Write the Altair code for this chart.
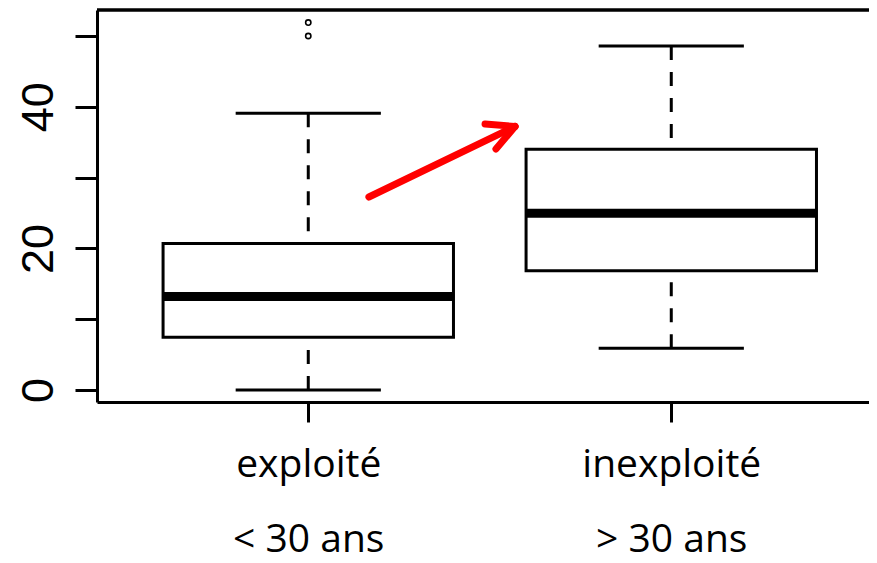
import json
import altair as alt
import pandas as pd

# ---- data ----
positions = [1, 2]
categories = ["exploité", "inexploité"]
age_labels = ["< 30 ans", "> 30 ans"]
whisker_low = [0.0, 5.9]
q1 = [7.45, 16.85]
median = [13.2, 24.95]
q3 = [20.7, 34.0]
whisker_high = [39.1, 48.6]
outlier_pos = [1, 1]
outlier_val = [50.0, 51.9]

# red annotation arrow (data units): shaft + two barbs, all ending at the tip
arrow_x_start = [1.167, 1.487, 1.517]
arrow_y_start = [27.26, 37.57, 34.04]
arrow_x_end = [1.5695, 1.5695, 1.5695]
arrow_y_end = [37.22, 37.22, 37.22]

y_ticks = [0, 10, 20, 30, 40, 50]

# ---- tables ----
boxes = pd.DataFrame({
    "pos": positions, "lo": whisker_low, "q1": q1, "med": median,
    "q3": q3, "hi": whisker_high,
})
outliers = pd.DataFrame({"pos": outlier_pos, "val": outlier_val})
arrow = pd.DataFrame({"x": arrow_x_start, "y": arrow_y_start,
                      "x2": arrow_x_end, "y2": arrow_y_end})

W, H = 772, 392
x_scale = alt.Scale(domain=[0.418, 2.5447], nice=False, zero=False)
y_scale = alt.Scale(domain=[-1.695, 53.67], nice=False, zero=False)

label_arr = "{" + ",".join(
    f'"{p}": {json.dumps([c, a], ensure_ascii=False)}'
    for p, c, a in zip(positions, categories, age_labels)) + "}"
x_label_expr = f"{label_arr}[datum.value + '']"

x_axis = alt.Axis(values=positions, labelExpr=x_label_expr, title=None,
                  grid=False, labelFont="Open Sans", labelFontSize=39,
                  labelLineHeight=75, labelBaseline="top", labelAlign="center",
                  labelAngle=0, labelPadding=23, labelColor="black",
                  labelFlush=False, labelOverlap=False, labelLimit=0,
                  tickSize=20, tickWidth=3, tickColor="black",
                  domainWidth=3, domainColor="black")
y_axis = alt.Axis(values=y_ticks,
                  labelExpr="datum.value % 20 == 0 ? datum.label : ''",
                  title=None, grid=False, labelFont="Liberation Sans",
                  labelFontSize=45, labelAngle=-90, labelAlign="center",
                  labelBaseline="alphabetic", labelPadding=23,
                  labelColor="black", labelOverlap=False, labelFlush=False,
                  tickSize=22, tickWidth=3, tickColor="black",
                  domainWidth=3, domainColor="black")


def X(field):
    return alt.X(field, type="quantitative", scale=x_scale, axis=x_axis)


def Y(field):
    return alt.Y(field, type="quantitative", scale=y_scale, axis=y_axis)


base = alt.Chart(boxes)

whisk_lo = base.mark_rule(color="black", strokeWidth=3, strokeDash=[14, 12],
                          strokeCap="butt").encode(
    x=X("pos"), y=Y("lo"), y2="q1:Q")
whisk_hi = base.mark_rule(color="black", strokeWidth=3, strokeDash=[14, 12],
                          strokeCap="butt").encode(
    x=X("pos"), y=Y("hi"), y2="q3:Q")

caps = base.transform_fold(["lo", "hi"], as_=["kind", "v"]).transform_calculate(
    xa="datum.pos - 0.2", xb="datum.pos + 0.2"
).mark_rule(color="black", strokeWidth=3).encode(
    x=X("xa"), x2="xb:Q", y=Y("v"))

box_rect = base.transform_calculate(
    xa="datum.pos - 0.4", xb="datum.pos + 0.4"
).mark_rect(fill="white", stroke="black", strokeWidth=3).encode(
    x=X("xa"), x2="xb:Q", y=Y("q1"), y2="q3:Q")

med_line = base.transform_calculate(
    xa="datum.pos - 0.4", xb="datum.pos + 0.4"
).mark_rule(color="black", strokeWidth=9, strokeCap="butt").encode(
    x=X("xa"), x2="xb:Q", y=Y("med"))

out_pts = alt.Chart(outliers).mark_point(
    shape="circle", filled=False, size=28, strokeWidth=1.6, color="black",
    opacity=1).encode(x=X("pos"), y=Y("val"))

arrow_marks = alt.Chart(arrow).mark_rule(
    color="#ff0000", strokeWidth=7, strokeCap="round").encode(
    x=X("x"), y=Y("y"), x2="x2:Q", y2="y2:Q")

top_line = alt.Chart(boxes).mark_rule(color="black", strokeWidth=3).encode(
    x=alt.value(0), x2=alt.value(W), y=alt.value(0))

chart = alt.layer(
    whisk_lo, whisk_hi, caps, box_rect, med_line, out_pts, arrow_marks, top_line
).properties(
    width=W, height=H,
    autosize=alt.AutoSizeParams(type="none"),
    padding={"left": 89, "top": 2, "right": 0, "bottom": 161},
    background="white",
).configure_view(stroke=None)

chart.save("out.html", embed_options={"renderer": "svg", "actions": False})
